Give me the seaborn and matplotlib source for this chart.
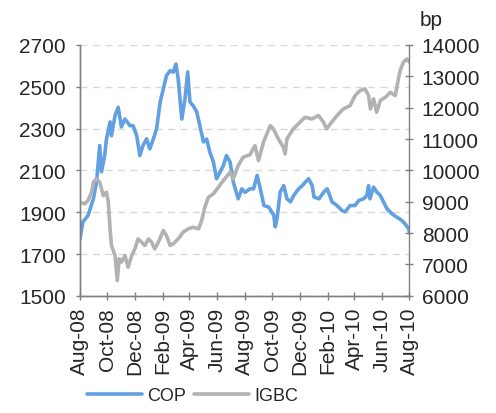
import matplotlib
matplotlib.use('Agg')
import matplotlib.pyplot as plt
import matplotlib.dates as mdates
import pandas as pd
import seaborn as sns

# ========== DATA ==========
cop_dates = [
    '2008-08-01', '2008-08-08', '2008-08-19', '2008-08-31', '2008-09-07', '2008-09-14',
    '2008-09-18', '2008-09-25', '2008-09-29', '2008-10-07', '2008-10-10', '2008-10-18',
    '2008-10-25', '2008-11-01', '2008-11-09', '2008-11-20', '2008-11-27', '2008-12-05',
    '2008-12-12', '2008-12-19', '2008-12-27', '2009-01-03', '2009-01-11', '2009-01-18',
    '2009-01-26', '2009-02-02', '2009-02-09', '2009-02-17', '2009-02-24', '2009-03-02',
    '2009-03-07', '2009-03-15', '2009-03-22', '2009-03-28', '2009-04-02', '2009-04-09',
    '2009-04-17', '2009-04-24', '2009-05-02', '2009-05-09', '2009-05-16', '2009-05-24',
    '2009-05-31', '2009-06-08', '2009-06-15', '2009-06-22', '2009-06-30', '2009-07-07',
    '2009-07-18', '2009-07-26', '2009-08-02', '2009-08-13', '2009-08-21', '2009-08-29',
    '2009-09-05', '2009-09-13', '2009-09-24', '2009-10-05', '2009-10-08', '2009-10-12',
    '2009-10-19', '2009-10-27', '2009-11-03', '2009-11-11', '2009-11-18', '2009-11-29',
    '2009-12-07', '2009-12-14', '2009-12-21', '2009-12-29', '2010-01-02', '2010-01-13',
    '2010-01-24', '2010-01-31', '2010-02-03', '2010-02-11', '2010-02-22', '2010-03-05',
    '2010-03-12', '2010-03-23', '2010-04-03', '2010-04-11', '2010-04-22', '2010-04-29',
    '2010-05-03', '2010-05-06', '2010-05-14', '2010-05-21', '2010-05-29', '2010-06-05',
    '2010-06-13', '2010-06-24', '2010-07-05', '2010-07-16', '2010-07-23', '2010-07-31',
    '2010-08-02',
]
cop_values = [
    1770, 1854, 1884, 1964, 2045, 2219,
    2093, 2171, 2251, 2332, 2266, 2362,
    2402, 2308, 2346, 2314, 2314, 2266,
    2171, 2219, 2251, 2203, 2251, 2298,
    2427, 2490, 2553, 2577, 2570, 2609,
    2537, 2346, 2442, 2571, 2427, 2410,
    2380, 2314, 2236, 2250, 2188, 2140,
    2060, 2093, 2123, 2171, 2140, 2045,
    1964, 2012, 1995, 2012, 2012, 2076,
    2012, 1932, 1924, 1884, 1830, 1868,
    1997, 2027, 1964, 1950, 1980, 2012,
    2027, 2045, 2060, 2027, 1972, 1964,
    1997, 2012, 1997, 1949, 1932, 1908,
    1902, 1932, 1932, 1956, 1964, 1980,
    2027, 1964, 2020, 1997, 1980, 1949,
    1916, 1892, 1876, 1860, 1844, 1820,
    1800,
]

igbc_dates = [
    '2008-08-01', '2008-08-12', '2008-08-19', '2008-08-27', '2008-08-31', '2008-09-07',
    '2008-09-14', '2008-09-18', '2008-09-22', '2008-09-29', '2008-10-03', '2008-10-07',
    '2008-10-10', '2008-10-18', '2008-10-23', '2008-10-27', '2008-11-01', '2008-11-09',
    '2008-11-16', '2008-11-24', '2008-12-01', '2008-12-08', '2008-12-16', '2008-12-23',
    '2008-12-31', '2009-01-07', '2009-01-14', '2009-01-22', '2009-02-02', '2009-02-09',
    '2009-02-17', '2009-02-24', '2009-03-07', '2009-03-18', '2009-03-29', '2009-04-09',
    '2009-04-21', '2009-04-28', '2009-05-05', '2009-05-13', '2009-05-24', '2009-06-04',
    '2009-06-15', '2009-06-30', '2009-07-07', '2009-07-18', '2009-07-29', '2009-08-13',
    '2009-08-24', '2009-09-01', '2009-09-12', '2009-09-27', '2009-10-04', '2009-10-15',
    '2009-10-26', '2009-10-30', '2009-11-03', '2009-11-17', '2009-12-02', '2009-12-13',
    '2009-12-28', '2010-01-12', '2010-01-23', '2010-01-30', '2010-02-07', '2010-02-22',
    '2010-03-08', '2010-03-23', '2010-04-03', '2010-04-14', '2010-04-25', '2010-05-03',
    '2010-05-07', '2010-05-14', '2010-05-21', '2010-05-29', '2010-06-09', '2010-06-20',
    '2010-07-01', '2010-07-08', '2010-07-12', '2010-07-19', '2010-07-27', '2010-08-02',
]
igbc_values = [
    8990, 8933, 9038, 9305, 9624, 9730,
    9624, 9411, 9198, 9305, 8986, 8136,
    7604, 7285, 6489, 7180, 7074, 7285,
    6914, 7285, 7498, 7817, 7712, 7604,
    7817, 7712, 7498, 7712, 8083, 7923,
    7604, 7658, 7817, 8030, 8136, 8189,
    8136, 8400, 8826, 9145, 9251, 9465,
    9677, 9943, 9730, 10155, 10421, 10500,
    10792, 10314, 10899, 11428, 11322, 11004,
    10740, 10527, 11004, 11323, 11537, 11695,
    11640, 11750, 11537, 11323, 11480, 11750,
    11960, 12065, 12385, 12545, 12598, 12385,
    11960, 12280, 11855, 12228, 12330, 12490,
    12385, 12916, 13182, 13448, 13554, 13448,
]

cop = pd.DataFrame({'date': pd.to_datetime(cop_dates), 'value': cop_values})
igbc = pd.DataFrame({'date': pd.to_datetime(igbc_dates), 'value': igbc_values})

# ========== STYLE ==========
sns.set_style('white')
plt.rcParams['font.family'] = ['Liberation Sans', 'DejaVu Sans']
plt.rcParams['font.size'] = 15

blue = '#62A0E2'
grey = '#B2B2B2'
axis_grey = '#808080'

fig = plt.figure(figsize=(4.96, 4.14), dpi=100)
ax = fig.add_axes([0.161, 0.283, 0.664, 0.606])
ax2 = ax.twinx()

sns.lineplot(data=cop, x='date', y='value', ax=ax, color=blue, lw=2.6, label='COP', legend=False)
sns.lineplot(data=igbc, x='date', y='value', ax=ax2, color=grey, lw=2.6, label='IGBC', legend=False)

# ========== AXES ==========
ax.set_xlim(pd.Timestamp('2008-08-01'), pd.Timestamp('2010-08-01'))
ax.set_ylim(1500, 2700)
ax.set_yticks(range(1500, 2701, 200))
ax2.set_ylim(6000, 14000)
ax2.set_yticks(range(6000, 14001, 1000))

ax.xaxis.set_major_locator(mdates.MonthLocator(bymonth=[2, 4, 6, 8, 10, 12]))
ax.xaxis.set_major_formatter(mdates.DateFormatter('%b-%y'))
plt.setp(ax.get_xticklabels(), rotation=90)

ax.set_xlabel('')
ax.set_ylabel('')
ax2.set_ylabel('')

for a in (ax, ax2):
    for s in a.spines.values():
        s.set_color(axis_grey)
        s.set_linewidth(1)
    a.spines['top'].set_visible(False)
ax.spines['right'].set_visible(False)

ax.tick_params(axis='y', direction='out', length=3, width=1, color=axis_grey, pad=7, left=True)
ax.tick_params(axis='x', direction='inout', length=6, width=1, color=axis_grey, pad=5, bottom=True)
ax2.tick_params(axis='y', direction='inout', length=6, width=1, color=axis_grey, pad=6, right=True)

ax.yaxis.grid(True, color='#D9D9D9', linestyle=(0, (5, 4)), linewidth=1)
ax.set_axisbelow(True)

fig.text(431 / 496, 1 - 20 / 414, 'bp', ha='center', va='center', fontsize=15)

handles = [ax.get_lines()[0], ax2.get_lines()[0]]
fig.legend(handles, ['COP', 'IGBC'], loc='center left', bbox_to_anchor=(87 / 496, 0.042),
           ncol=2, frameon=False, handlelength=3.05, handletextpad=0.28,
           columnspacing=0.45, borderpad=0, borderaxespad=0, fontsize=13)

fig.savefig('out.png', dpi=100)
